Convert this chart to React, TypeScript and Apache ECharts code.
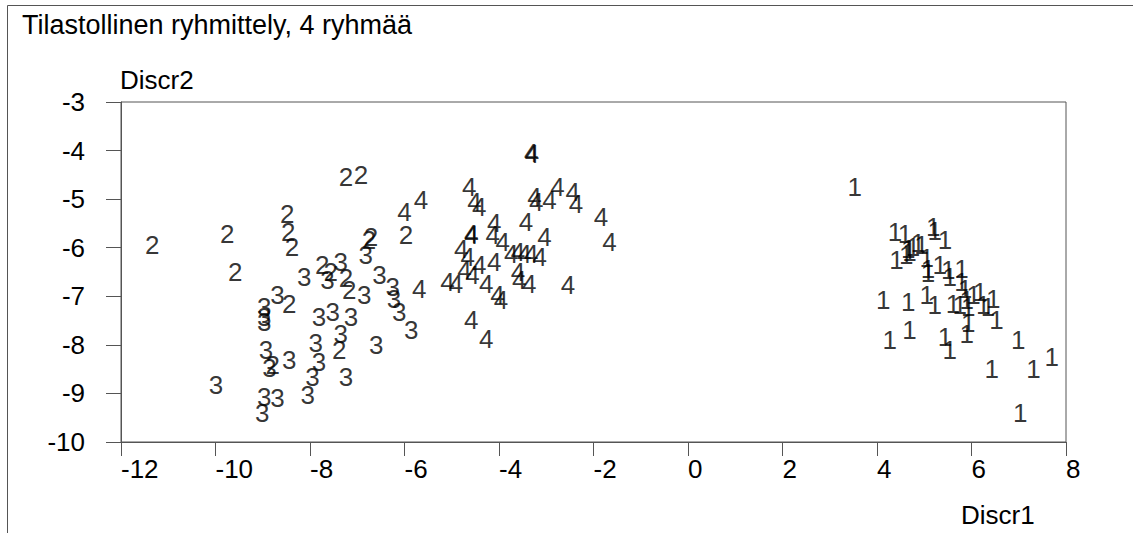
import React, { useEffect, useRef } from "react";
import * as echarts from "echarts";

// Discriminant scores (Discr1, Discr2) for each of the four clusters
const group1: [number, number][] = [
  [3.53, -4.75], [4.38, -5.67], [4.59, -5.71], [5.19, -5.57], [5.22, -5.66], [5.44, -5.85],
  [4.66, -6.02], [4.69, -6.09], [4.76, -5.98], [4.87, -5.91], [4.94, -5.95],
  [4.41, -6.26], [4.62, -6.15], [5.05, -6.22], [5.08, -6.43], [5.08, -6.53],
  [5.33, -6.36], [5.51, -6.46], [5.54, -6.6], [5.79, -6.43], [5.79, -6.7], [5.86, -6.84],
  [4.13, -7.08], [4.66, -7.12], [5.05, -6.98], [5.22, -7.18], [5.61, -7.15], [5.75, -7.18],
  [5.93, -7.22], [5.9, -7.08], [6.04, -6.98], [6.18, -6.91], [6.25, -7.18], [6.35, -7.22],
  [6.46, -7.05], [6.53, -7.49], [5.93, -7.55], [4.27, -7.9], [4.69, -7.7], [5.44, -7.84],
  [5.54, -8.11], [5.9, -7.77], [6.99, -7.9], [6.43, -8.49], [7.31, -8.49], [7.7, -8.25],
  [7.03, -9.41],
];

const group2: [number, number][] = [
  [-11.34, -5.95], [-9.75, -5.71], [-9.58, -6.5], [-8.48, -5.3], [-8.46, -5.67], [-8.38, -5.98],
  [-7.24, -4.54], [-6.92, -4.51], [-6.71, -5.78], [-6.75, -5.85], [-5.97, -5.74],
  [-7.74, -6.36], [-7.56, -6.5], [-7.24, -6.63], [-7.17, -6.87], [-8.44, -7.15],
  [-8.79, -8.42], [-7.38, -8.11],
];

const group3: [number, number][] = [
  [-8.12, -6.6], [-7.35, -6.29], [-7.63, -6.67], [-6.82, -6.15], [-6.53, -6.57], [-6.25, -6.81],
  [-6.22, -7.05], [-6.11, -7.32], [-6.85, -6.98], [-8.69, -6.98], [-8.97, -7.22], [-8.97, -7.42],
  [-8.97, -7.53], [-5.86, -7.7], [-7.52, -7.32], [-7.81, -7.42], [-7.13, -7.42], [-7.35, -7.77],
  [-7.88, -7.97], [-6.6, -8.01], [-8.93, -8.11], [-8.86, -8.48], [-8.44, -8.31], [-7.81, -8.35],
  [-7.95, -8.66], [-8.05, -9.04], [-7.24, -8.66], [-9.99, -8.83], [-8.97, -9.07], [-8.69, -9.1],
  [-9.01, -9.41],
];

const group4: [number, number][] = [
  [-3.32, -4.06], [-3.3, -4.07], [-4.63, -4.75], [-4.52, -5.06], [-4.42, -5.16], [-5.65, -5.02],
  [-6.0, -5.26], [-3.25, -4.95], [-3.21, -5.06], [-2.93, -5.02], [-2.76, -4.75], [-2.44, -4.85],
  [-2.37, -5.09], [-1.84, -5.37], [-1.66, -5.88], [-3.43, -5.47], [-3.04, -5.78], [-4.59, -5.71],
  [-4.58, -5.73], [-4.1, -5.5], [-4.13, -5.74], [-3.92, -5.88], [-4.8, -6.02], [-4.66, -6.19],
  [-4.42, -6.36], [-4.1, -6.29], [-3.74, -6.12], [-3.6, -6.09], [-3.46, -6.12], [-3.32, -6.12],
  [-3.14, -6.19], [-4.73, -6.46], [-4.56, -6.57], [-5.09, -6.7], [-4.91, -6.74], [-4.27, -6.74],
  [-3.6, -6.5], [-3.57, -6.67], [-3.36, -6.74], [-4.03, -6.98], [-3.96, -7.08], [-5.69, -6.84],
  [-2.54, -6.77], [-4.59, -7.49], [-4.27, -7.87],
];

const groupNames = ["1", "2", "3", "4"];
const groups = [group1, group2, group3, group4];

const titleText = "Tilastollinen ryhmittely, 4 ryhmää";
const xName = "Discr1";
const yName = "Discr2";

const FONT = "'Liberation Sans', Arial, sans-serif";
const LINE = "#555";

export default function App() {
  const ref = useRef<HTMLDivElement>(null);

  useEffect(() => {
    if (!ref.current) return;
    const chart = echarts.init(ref.current, undefined, { renderer: "svg" });

    chart.setOption({
      animation: false,
      backgroundColor: "#fff",
      textStyle: { fontFamily: FONT },
      grid: {
        left: 121,
        top: 102,
        right: 67,
        bottom: 91,
        show: true,
        borderColor: LINE,
        borderWidth: 1,
      },
      xAxis: {
        type: "value",
        min: -12,
        max: 8,
        interval: 2,
        axisLine: { show: true, onZero: false, lineStyle: { color: LINE, width: 1 } },
        axisTick: { show: true, inside: false, length: 14, lineStyle: { color: LINE } },
        axisLabel: {
          color: "#000",
          fontSize: 26,
          fontFamily: FONT,
          align: "left",
          margin: 14,
        },
        splitLine: { show: false },
      },
      yAxis: {
        type: "value",
        min: -10,
        max: -3,
        interval: 1,
        axisLine: { show: true, onZero: false, lineStyle: { color: LINE, width: 1 } },
        axisTick: { show: true, inside: false, length: 15, lineStyle: { color: LINE } },
        axisLabel: {
          color: "#000",
          fontSize: 26,
          fontFamily: FONT,
          margin: 36,
        },
        splitLine: { show: false },
      },
      graphic: [
        {
          type: "rect",
          silent: true,
          shape: { x: 7.5, y: 5.5, width: 2000, height: 1000 },
          style: { fill: "none", stroke: LINE, lineWidth: 1 },
        },
        {
          type: "text",
          x: 22,
          y: 24.5,
          style: {
            text: titleText,
            fontSize: 27,
            fontFamily: FONT,
            fill: "#000",
            textAlign: "left",
            textVerticalAlign: "middle",
          },
        },
        {
          type: "text",
          x: 120,
          y: 80,
          style: {
            text: yName,
            fontSize: 26,
            fontFamily: FONT,
            fill: "#000",
            textAlign: "left",
            textVerticalAlign: "middle",
          },
        },
        {
          type: "text",
          x: 961,
          y: 515,
          style: {
            text: xName,
            fontSize: 26,
            fontFamily: FONT,
            fill: "#000",
            textAlign: "left",
            textVerticalAlign: "middle",
          },
        },
      ],
      series: groups.map((data, i) => ({
        type: "scatter",
        name: groupNames[i],
        data,
        symbolSize: 0,
        itemStyle: { color: "#000" },
        label: {
          show: true,
          position: "inside",
          formatter: "{a}",
          color: "#000",
          fontSize: 26,
          fontFamily: FONT,
          align: "center",
          verticalAlign: "middle",
        },
        emphasis: { disabled: true },
      })),
    });

    return () => chart.dispose();
  }, []);

  return (
    <div
      ref={ref}
      style={{ position: "fixed", left: 0, top: 0, width: 1133, height: 533 }}
    />
  );
}
